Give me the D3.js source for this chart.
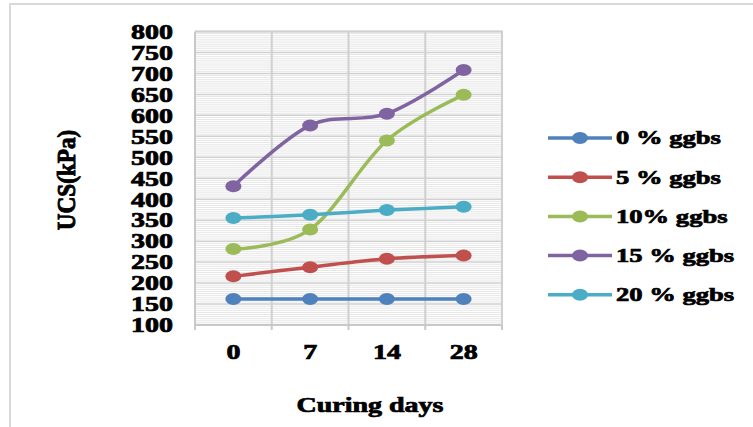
<!DOCTYPE html>
<html>
<head>
<meta charset="utf-8">
<script src="https://cdn.jsdelivr.net/npm/d3@7"></script>
<style>
  html, body { margin: 0; padding: 0; background: #fff; }
  svg { display: block; }
  text { font-family: "Liberation Serif", "Times New Roman", serif; font-weight: bold; fill: #000; stroke: #000; stroke-width: 0.7px; }
</style>
</head>
<body>
<svg id="chart" width="753" height="427"></svg>
<script>
// Curing days on the x axis
const days = ["0", "7", "14", "28"];

// UCS (kPa) for each ggbs content
const seriesNames = ["0 % ggbs", "5 % ggbs", "10% ggbs", "15 % ggbs", "20 % ggbs"];
const ggbs0  = [162, 162, 162, 162];
const ggbs5  = [216, 238, 258, 266];
const ggbs10 = [281, 328, 540, 649];
const ggbs15 = [431, 576, 604, 708];
const ggbs20 = [355, 363, 374, 382];
const seriesColors = ["#4F81BD", "#C0504D", "#9BBB59", "#8064A2", "#4BACC6"];

// y axis tick labels
const yTicks = [100, 150, 200, 250, 300, 350, 400, 450, 500, 550, 600, 650, 700, 750, 800];

const series = [ggbs0, ggbs5, ggbs10, ggbs15, ggbs20].map((vals, i) => ({
  name: seriesNames[i], color: seriesColors[i], values: vals
}));

const SX = 1.4; // horizontal glyph stretch used by all labels

const svg = d3.select("#chart");

// outer chart frame
svg.append("path")
  .attr("d", "M10,427 V4 H753")
  .attr("fill", "none")
  .attr("stroke", "#d9d9d9")
  .attr("stroke-width", 2);

const plot = { left: 195, right: 502, top: 31.5, bottom: 325 };

const x = d3.scaleBand().domain(days).range([plot.left, plot.right]);
const y = d3.scaleLinear().domain([100, 800]).range([plot.bottom, plot.top]);

// minor horizontal gridlines
const minor = d3.range(105, 800, 5).filter(v => v % 50 !== 0);
svg.append("g").selectAll("line").data(minor).join("line")
  .attr("x1", plot.left).attr("x2", plot.right)
  .attr("y1", d => y(d)).attr("y2", d => y(d))
  .attr("stroke", "#e6e6e6").attr("stroke-width", 1);

// major horizontal gridlines
svg.append("g").selectAll("line").data(yTicks.slice(1)).join("line")
  .attr("x1", plot.left).attr("x2", plot.right)
  .attr("y1", d => y(d)).attr("y2", d => y(d))
  .attr("stroke", "#d0d0d0").attr("stroke-width", 1.5);

// vertical gridlines at category boundaries
const bounds = days.map(d => x(d)).slice(1).concat([plot.right]);
svg.append("g").selectAll("line").data(bounds).join("line")
  .attr("x1", d => d).attr("x2", d => d)
  .attr("y1", plot.top).attr("y2", plot.bottom)
  .attr("stroke", "#d0d0d0").attr("stroke-width", 2);

// y axis
const yAxis = svg.append("g")
  .attr("transform", `translate(${plot.left},0)`)
  .call(d3.axisLeft(y).tickValues(yTicks).tickSize(0).tickPadding(0));
yAxis.select(".domain").attr("stroke", "#c8c8c8").attr("stroke-width", 2)
  .attr("d", `M0,${plot.bottom + 5}V${plot.top}`);
yAxis.selectAll(".tick text")
  .attr("x", -22 / SX)
  .attr("dy", "0.34em")
  .attr("transform", `scale(${SX},1)`)
  .style("font-size", "20px");

// x axis
const xAxis = svg.append("g")
  .attr("transform", `translate(0,${plot.bottom})`)
  .call(d3.axisBottom(x).tickSize(0).tickPadding(0));
xAxis.select(".domain").attr("stroke", "#c8c8c8").attr("stroke-width", 2)
  .attr("d", `M${plot.left},0H${plot.right}`);
xAxis.selectAll(".tick text")
  .attr("y", 34)
  .attr("dy", 0)
  .attr("x", 0)
  .attr("transform", `scale(${SX},1)`)
  .style("font-size", "20px");
// category boundary tick marks
svg.append("g").selectAll("line").data([plot.left].concat(bounds)).join("line")
  .attr("x1", d => d).attr("x2", d => d)
  .attr("y1", plot.bottom).attr("y2", plot.bottom + 5)
  .attr("stroke", "#c8c8c8").attr("stroke-width", 2);

// plot frame top/right
svg.append("path")
  .attr("d", `M${plot.left},${plot.top}H${plot.right}V${plot.bottom}`)
  .attr("fill", "none").attr("stroke", "#d0d0d0").attr("stroke-width", 2);

// series lines
const cx = d => x(d) + x.bandwidth() / 2;
const line = d3.line()
  .x((v, i) => cx(days[i]))
  .y(v => y(v))
  .curve(d3.curveCatmullRom.alpha(0));

const sg = svg.append("g").selectAll("g").data(series).join("g");
sg.append("path")
  .attr("d", s => line(s.values))
  .attr("fill", "none")
  .attr("stroke", s => s.color)
  .attr("stroke-width", 3.5);
sg.selectAll("ellipse").data(s => s.values.map((v, i) => ({ v, i, color: s.color }))).join("ellipse")
  .attr("cx", d => cx(days[d.i]))
  .attr("cy", d => y(d.v))
  .attr("rx", 8).attr("ry", 6)
  .attr("fill", d => d.color);

// legend
const legend = svg.append("g").selectAll("g").data(series).join("g")
  .attr("transform", (s, i) => `translate(548,${138 + i * 39.2})`);
legend.append("line")
  .attr("x1", 0).attr("x2", 64).attr("y1", 0).attr("y2", 0)
  .attr("stroke", s => s.color).attr("stroke-width", 3.5);
legend.append("ellipse")
  .attr("cx", 32).attr("cy", 0).attr("rx", 8).attr("ry", 6)
  .attr("fill", s => s.color);
legend.append("text")
  .attr("transform", `translate(68,0) scale(${SX},1)`)
  .attr("dy", "0.34em")
  .style("font-size", "19px")
  .text(s => s.name);

// axis titles
svg.append("text")
  .attr("transform", `translate(370,412) scale(${SX},1)`)
  .attr("text-anchor", "middle")
  .style("font-size", "20px")
  .text("Curing days");

svg.append("text")
  .attr("transform", `translate(75,180) rotate(-90) scale(1.22,1.35)`)
  .attr("text-anchor", "middle")
  .style("font-size", "19px")
  .text("UCS(kPa)");
</script>
</body>
</html>
